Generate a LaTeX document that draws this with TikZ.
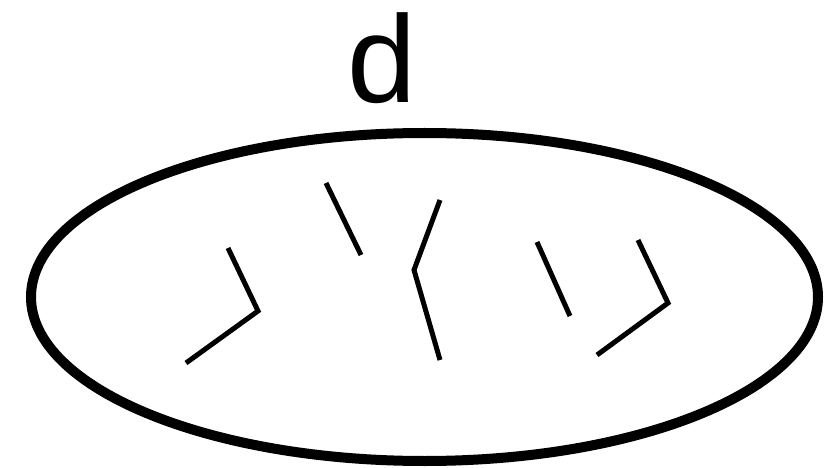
\documentclass[tikz,border=0pt]{standalone}
\usepackage{fontspec}
\setmainfont{Liberation Sans}
\begin{document}
\begin{tikzpicture}[x=1pt,y=-1pt,
  stroke/.style={line width=5pt,line cap=butt,line join=miter},
  outline/.style={line width=10pt}]
\useasboundingbox (0,0) rectangle (825,468);
\node[font=\fontsize{124}{124}\selectfont,anchor=base,inner sep=0pt] (lbl) at (382,103) {d};
\draw[outline] (424.5,297) ellipse [x radius=393.5, y radius=164];
\coordinate (a1) at (228,248); \coordinate (a2) at (258,311); \coordinate (a3) at (186,363);
\coordinate (b1) at (326,183); \coordinate (b2) at (361,255);
\coordinate (c1) at (440,200); \coordinate (c2) at (414,270); \coordinate (c3) at (440,360);
\coordinate (d1) at (537,242); \coordinate (d2) at (570,316);
\coordinate (e1) at (638,240); \coordinate (e2) at (668,303); \coordinate (e3) at (597,355);
\draw[stroke] (a1) -- (a2) -- (a3);
\draw[stroke] (b1) -- (b2);
\draw[stroke] (c1) -- (c2) -- (c3);
\draw[stroke] (d1) -- (d2);
\draw[stroke] (e1) -- (e2) -- (e3);
\end{tikzpicture}
\end{document}
